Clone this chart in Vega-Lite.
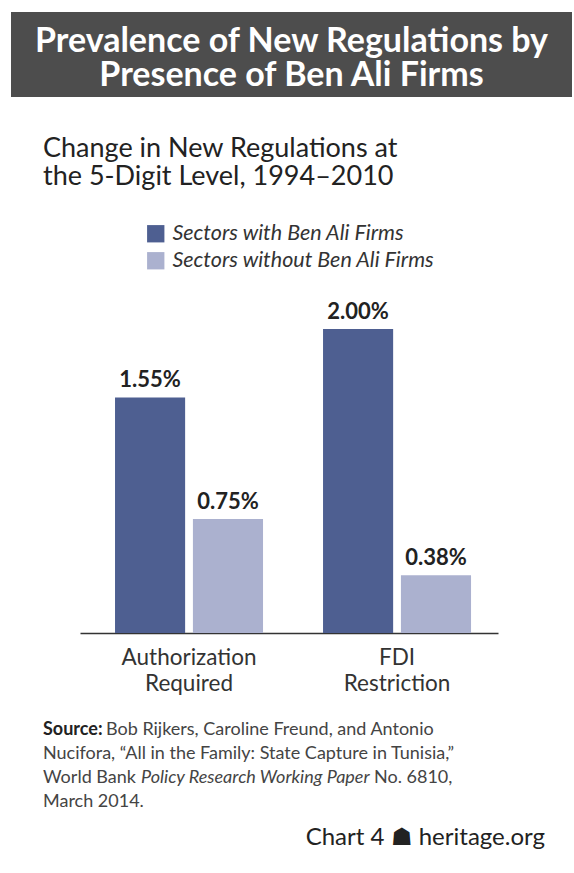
{
  "$schema": "https://vega.github.io/schema/vega-lite/v6.json",
  "padding": {"left": 11, "top": 12, "right": 0, "bottom": 0},
  "background": "white",
  "config": {"view": {"stroke": null}, "font": "Lato"},
  "spacing": 102,
  "bounds": "flush",
  "resolve": {"legend": {"color": "independent"}},
  "datasets": {
    "header": [{"title": "Prevalence of New Regulations by\nPresence of Ben Ali Firms"}],
    "bars": [
      {"category": "Authorization Required", "series": "Sectors with Ben Ali Firms", "value": 0.0155},
      {"category": "Authorization Required", "series": "Sectors without Ben Ali Firms", "value": 0.0075},
      {"category": "FDI Restriction", "series": "Sectors with Ben Ali Firms", "value": 0.02},
      {"category": "FDI Restriction", "series": "Sectors without Ben Ali Firms", "value": 0.0038}
    ],
    "footer": [
      {"part": "source", "line": "1", "seg": "bold", "text": "Source:"},
      {"part": "source", "line": "1", "seg": "rest1", "text": "Bob Rijkers, Caroline Freund, and Antonio"},
      {"part": "source", "line": "2", "seg": "plain", "text": "Nucifora, “All in the Family: State Capture in Tunisia,”"},
      {"part": "source", "line": "3", "seg": "plain", "text": "World Bank"},
      {"part": "source", "line": "3", "seg": "italic", "text": "Policy Research Working Paper"},
      {"part": "source", "line": "3", "seg": "tail", "text": "No. 6810,"},
      {"part": "source", "line": "4", "seg": "plain", "text": "March 2014."},
      {"part": "credit", "line": "credit", "seg": "credit", "text": "Chart 4 ☗ heritage.org"}
    ]
  },
  "vconcat": [
    {
      "width": 561,
      "height": 85,
      "view": {"fill": "#4d4d4d", "stroke": null},
      "data": {"name": "header"},
      "mark": {"type": "text", "font": "Lato", "fontWeight": "bold", "fontSize": 34, "color": "white", "align": "center", "baseline": "alphabetic", "lineBreak": "\n", "lineHeight": 34, "dy": -2.5},
      "encoding": {"text": {"field": "title", "type": "nominal"}}
    },
    {
      "width": 561,
      "height": 434,
      "title": {"text": ["Change in New Regulations at", "the 5-Digit Level, 1994–2010"], "anchor": "start", "frame": "group", "dx": 32, "fontSize": 27, "fontWeight": "normal", "color": "#222", "lineHeight": 28, "offset": 8, "font": "Lato"},
      "data": {"name": "bars"},
      "encoding": {
        "x": {
          "field": "category", "type": "nominal",
          "sort": ["Authorization Required", "FDI Restriction"],
          "scale": {"range": [69, 487], "paddingInner": 0.2885, "paddingOuter": 0.149, "align": 0.565},
          "axis": {"title": null, "labelAngle": 0, "ticks": false, "domainColor": "#333", "domainWidth": 1.5, "labelFontSize": 22.5, "labelColor": "#333", "labelPadding": 13, "labelLineHeight": 26, "labelExpr": "split(datum.label, ' ')", "labelFont": "Lato"}
        },
        "xOffset": {"field": "series", "type": "nominal", "sort": ["Sectors with Ben Ali Firms", "Sectors without Ben Ali Firms"], "scale": {"paddingInner": 0.1, "paddingOuter": 0}},
        "y": {"field": "value", "type": "quantitative", "axis": null, "scale": {"domain": [0, 0.02855], "nice": false}}
      },
      "layer": [
        {
          "mark": {"type": "bar"},
          "encoding": {
            "color": {
              "field": "series", "type": "nominal",
              "scale": {"domain": ["Sectors with Ben Ali Firms", "Sectors without Ben Ali Firms"], "range": ["#4e5f91", "#abb1cf"]},
              "legend": {"orient": "none", "legendX": 134, "legendY": 24, "title": null, "symbolType": "square", "symbolSize": 300, "symbolStrokeWidth": 0, "labelFontSize": 21.5, "labelFontStyle": "italic", "labelColor": "#333", "labelOffset": 6, "rowPadding": 4, "labelLimit": 400, "labelFont": "Lato"}
            }
          }
        },
        {
          "mark": {"type": "text", "dy": -10, "baseline": "alphabetic", "fontSize": 22, "fontWeight": "bold", "color": "#222", "font": "Lato"},
          "encoding": {"text": {"field": "value", "type": "quantitative", "format": ".2%"}}
        }
      ]
    },
    {
      "width": 561,
      "height": 110,
      "data": {"name": "footer"},
      "resolve": {"scale": {"y": "independent"}},
      "encoding": {
        "x": {"field": "part", "type": "nominal", "axis": null, "scale": {"type": "point", "domain": ["source", "credit"], "range": [32, 534], "padding": 0}}
      },
      "layer": [
        {
          "transform": [{"filter": "datum.seg === 'bold'"}],
          "mark": {"type": "text", "align": "left", "baseline": "alphabetic", "fontSize": 18, "fontWeight": "bold", "color": "#222", "font": "Lato"},
          "encoding": {
            "y": {"field": "line", "type": "nominal", "axis": null, "scale": {"type": "point", "domain": ["1", "2", "3", "4"], "range": [0, 72], "padding": 0}},
            "text": {"field": "text", "type": "nominal"}
          }
        },
        {
          "transform": [{"filter": "datum.seg === 'rest1'"}],
          "mark": {"type": "text", "align": "left", "baseline": "alphabetic", "dx": 63, "fontSize": 18, "color": "#444", "font": "Lato"},
          "encoding": {
            "y": {"field": "line", "type": "nominal", "axis": null, "scale": {"type": "point", "domain": ["1", "2", "3", "4"], "range": [0, 72], "padding": 0}},
            "text": {"field": "text", "type": "nominal"}
          }
        },
        {
          "transform": [{"filter": "datum.seg === 'plain'"}],
          "mark": {"type": "text", "align": "left", "baseline": "alphabetic", "fontSize": 18, "color": "#444", "font": "Lato"},
          "encoding": {
            "y": {"field": "line", "type": "nominal", "axis": null, "scale": {"type": "point", "domain": ["1", "2", "3", "4"], "range": [0, 72], "padding": 0}},
            "text": {"field": "text", "type": "nominal"}
          }
        },
        {
          "transform": [{"filter": "datum.seg === 'italic'"}],
          "mark": {"type": "text", "align": "left", "baseline": "alphabetic", "dx": 98, "fontSize": 18, "fontStyle": "italic", "color": "#444", "font": "Lato"},
          "encoding": {
            "y": {"field": "line", "type": "nominal", "axis": null, "scale": {"type": "point", "domain": ["1", "2", "3", "4"], "range": [0, 72], "padding": 0}},
            "text": {"field": "text", "type": "nominal"}
          }
        },
        {
          "transform": [{"filter": "datum.seg === 'tail'"}],
          "mark": {"type": "text", "align": "left", "baseline": "alphabetic", "dx": 331, "fontSize": 18, "color": "#444", "font": "Lato"},
          "encoding": {
            "y": {"field": "line", "type": "nominal", "axis": null, "scale": {"type": "point", "domain": ["1", "2", "3", "4"], "range": [0, 72], "padding": 0}},
            "text": {"field": "text", "type": "nominal"}
          }
        },
        {
          "transform": [{"filter": "datum.seg === 'credit'"}],
          "mark": {"type": "text", "align": "right", "baseline": "alphabetic", "fontSize": 24, "color": "#222", "font": "Lato"},
          "encoding": {
            "y": {"field": "line", "type": "nominal", "axis": null, "scale": {"type": "point", "domain": ["credit"], "range": [110, 110], "padding": 0}},
            "text": {"field": "text", "type": "nominal"}
          }
        }
      ]
    }
  ]
}
